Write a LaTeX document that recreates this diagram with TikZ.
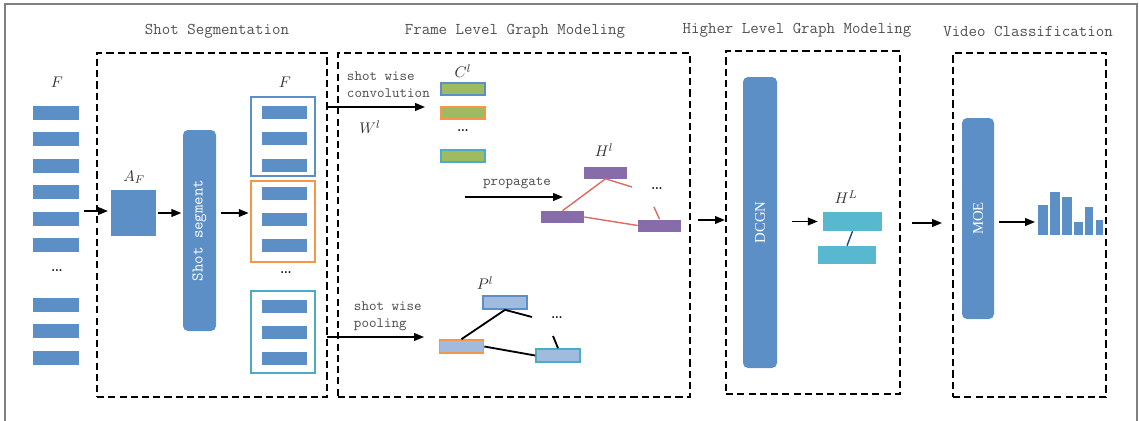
\documentclass[tikz,border=0pt]{standalone}
\usepackage{fontspec}
\usepackage{amsmath}
\usetikzlibrary{arrows.meta, positioning, calc}
\newfontfamily\serifont{Liberation Serif}
\definecolor{blockblue}{RGB}{93,143,199}
\definecolor{segorange}{RGB}{247,150,70}
\definecolor{segcyan}{RGB}{75,172,198}
\definecolor{convgreen}{RGB}{158,187,98}
\definecolor{nodepurple}{RGB}{134,108,168}
\definecolor{poolblue}{RGB}{160,187,222}
\definecolor{edgered}{RGB}{222,106,100}
\definecolor{hlcyan}{RGB}{88,184,208}
\definecolor{titlegray}{RGB}{80,80,80}
\def\upx{0.025cm}
\tikzset{
  stage/.style={draw=black, line width=1.6pt, dash pattern=on 5pt off 3pt, minimum width=#1*\upx, inner sep=0pt},
  title/.style={font=\ttfamily\fontsize{11.7}{14}\selectfont, text=titlegray},
  note/.style={font=\ttfamily\fontsize{10.2}{12.2}\selectfont, text=titlegray, align=left, anchor=west},
  lab/.style={font=\fontsize{11}{13}\selectfont, text=black!80},
  more/.style={font=\fontsize{14}{14}\selectfont, inner sep=0pt},
  arr/.style={-{Triangle[length=7pt,width=5.5pt]}, line width=1.1pt},
  fbar/.style={fill=blockblue, minimum width=46*\upx, minimum height=14*\upx, inner sep=0pt},
  sbar/.style={fill=blockblue, minimum width=45*\upx, minimum height=13*\upx, inner sep=0pt},
  group/.style={line width=1.4pt, minimum width=64*\upx, inner sep=0pt},
  cbar/.style={fill=convgreen, line width=1.2pt, minimum width=44*\upx, minimum height=12*\upx, inner sep=0pt},
  hbar/.style={fill=nodepurple, minimum width=43*\upx, minimum height=12*\upx, inner sep=0pt},
  pbar/.style={fill=poolblue, line width=1.2pt, minimum width=44*\upx, minimum height=13*\upx, inner sep=0pt},
  module/.style={fill=blockblue, rounded corners=5*\upx, rotate=90, inner sep=0pt, text=white},
  hedge/.style={draw=edgered, line width=1pt},
  pedge/.style={draw=black, line width=1.3pt},
}
\begin{document}
\begin{tikzpicture}[x=0.025cm, y=-0.025cm]
\useasboundingbox (0,0) rectangle (1139,421);
\draw[gray, line width=1pt] (5,421) -- (5,4) -- (1137,4) -- (1137,421);
% Stages
\node[stage=230, minimum height=344*\upx] (box1) at (212,225) {};
\node[stage=352, minimum height=344*\upx] (box2) at (514,225) {};
\node[stage=174, minimum height=343*\upx] (box3) at (813,222.5) {};
\node[stage=153, minimum height=344*\upx] (box4) at (1029.5,225) {};
\node[title] (t1) at (217,31) {Shot Segmentation};
\node[title] (t2) at (515,31) {Frame Level Graph Modeling};
\node[title] (t3) at (797,30) {Higher Level Graph Modeling};
\node[title] (t4) at (1028,31) {Video Classification};
% Input frames
\foreach \y [count=\i] in {113,139,166,192,219,245,305,331,358}
  \node[fbar] (in\i) at (56,\y) {};
\node[more] (indots) at (57,271) {\dots};
\node[lab] (inlab) at (57,82) {$F$};
% Shot segmentation
\node[fill=blockblue, minimum width=45*\upx, minimum height=46*\upx, inner sep=0pt] (af) at (133.5,213) {};
\node[lab] (aflab) at (134,177) {$A_F$};
\node[module, minimum width=201*\upx, minimum height=33*\upx, font=\ttfamily\fontsize{11.7}{14}\selectfont] (seg) at (199.5,230.5) {Shot segment};
\node[group, draw=blockblue, minimum height=79*\upx] (g1) at (283,136.5) {};
\node[group, draw=segorange, minimum height=81*\upx] (g2) at (283,221.5) {};
\node[group, draw=segcyan, minimum height=82*\upx] (g3) at (283,332) {};
\foreach \y [count=\i] in {112,138,165,193,219,245,306,332,358}
  \node[sbar] (sf\i) at (284.5,\y) {};
\node[more] (gdots) at (286,273) {\dots};
\node[lab] (glab) at (285,82) {$F$};
\coordinate (fin) at (84,211);
\draw[arr, shorten >=2pt] (fin) -- (fin -| af.west);
\draw[arr, shorten <=1pt, shorten >=1pt] (af.east) -- (af.east -| seg.north);
\draw[arr, shorten <=3pt, shorten >=1pt] (af.east -| seg.south) -- (af.east -| g2.west);
% Frame level graph modeling
\coordinate (convs) at (327,107);
\coordinate (conve) at (425,107);
\draw[arr] (convs) -- (conve);
\node[note] (convtxt) at (342,84.5) {shot wise\\convolution};
\node[lab] (wlab) at (370,127) {$W^l$};
\node[cbar, draw=blockblue] (c1) at (463,89) {};
\node[cbar, draw=segorange] (c2) at (463,113) {};
\node[cbar, draw=segcyan] (c3) at (463,156) {};
\node[more] (cdots) at (463,131) {\dots};
\node[lab] (clab) at (463,71) {$C^l$};
\coordinate (props) at (465,197);
\coordinate (prope) at (563,197);
\draw[arr] (props) -- (prope);
\node[note, anchor=center] (proptxt) at (517,183) {propagate};
\node[hbar] (h1) at (605.5,172.5) {};
\node[hbar] (h2) at (562.5,217) {};
\node[hbar] (h3) at (659.5,225.5) {};
\node[lab] (hlab) at (604,150) {$H^l$};
\node[more] (hdots) at (657,189) {\dots};
\coordinate (hend1) at (632,187);
\coordinate (hend2) at (654,207);
\draw[hedge] (h2.north) -- (h1.south) -- (hend1);
\draw[hedge] (h2.east) -- (h3.west);
\draw[hedge] (hend2) -- (h3.north);
\coordinate (pools) at (327,337);
\coordinate (poole) at (424,337);
\draw[arr] (pools) -- (poole);
\node[note] (pooltxt) at (349,316) {shot wise\\pooling};
\node[pbar, draw=blockblue] (p1) at (505,302.5) {};
\node[pbar, draw=segorange] (p2) at (461.5,346.5) {};
\node[pbar, draw=segcyan] (p3) at (558,355.5) {};
\node[lab] (plab) at (485,283) {$P^l$};
\node[more] (pdots) at (557,318) {\dots};
\coordinate (pend1) at (532,317);
\coordinate (pend2) at (553,336);
\draw[pedge] (p2.north) -- (p1.south) -- (pend1);
\draw[pedge] (p2.east) -- (p3.west);
\draw[pedge] (pend2) -- (p3.north);
% Higher level graph modeling
\coordinate (hs) at (698,220);
\draw[arr] (hs) -- (hs -| box3.west);
\node[module, minimum width=291*\upx, minimum height=34*\upx, font=\serifont\fontsize{10.5}{12}\selectfont] (dcgn) at (760,222.5) {DCGN};
\node[fill=hlcyan, minimum width=59*\upx, minimum height=19*\upx, inner sep=0pt] (hl1) at (852.5,221.5) {};
\node[fill=hlcyan, minimum width=58*\upx, minimum height=18*\upx, inner sep=0pt] (hl2) at (847,255) {};
\node[lab] (hllab) at (846,197) {$H^L$};
\draw[arr, shorten <=15*\upx, shorten >=5*\upx] (dcgn.south |- hl1.west) -- (hl1.west);
\draw[draw={rgb,255:red,31;green,78;blue,121}, line width=1pt] (hl1.south) -- (hl2.north);
% Video classification
\coordinate (vs) at (912,223);
\draw[arr] (vs) -- (942,223);
\node[module, minimum width=201*\upx, minimum height=32*\upx, font=\serifont\fontsize{10.5}{12}\selectfont] (moe) at (978,218.5) {MOE};
\coordinate (bars) at (1035,222);
\draw[arr, shorten <=5*\upx] (moe.south |- bars) -- (bars);
\foreach \xa/\xb/\t in {1037/1048/204, 1049/1060/191, 1061/1072/196, 1073/1083/221, 1084/1093/206, 1095/1103/219}
  \filldraw[fill=blockblue, draw=white, line width=0.4pt] (\xa,235) rectangle (\xb,\t);
\end{tikzpicture}
\end{document}
